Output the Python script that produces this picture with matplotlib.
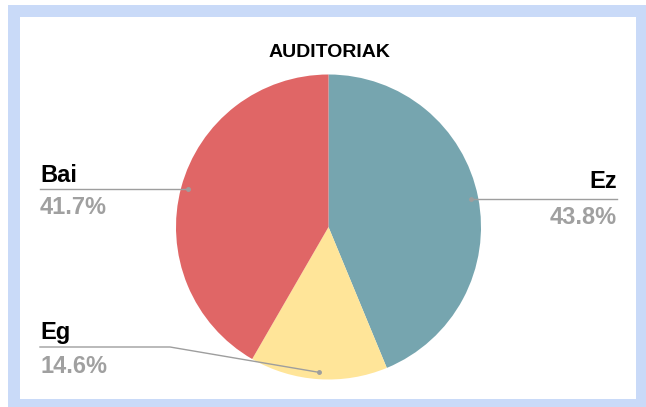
import numpy as np
import matplotlib
matplotlib.use("Agg")
import matplotlib.pyplot as plt
from matplotlib.patches import Rectangle

# Survey answers for the "AUDITORIAK" question
categories = ["Ez", "Eg", "Bai"]
shares = [43.8, 14.6, 41.7]
slice_colors = ["#76a5af", "#ffe599", "#e06666"]
title = "AUDITORIAK"

W, H = 646, 407
fig = plt.figure(figsize=(W / 100, H / 100), dpi=100)
fig.patch.set_facecolor("white")

# axes in pixel units (y measured upward)
ax = fig.add_axes([0, 0, 1, 1])
ax.patch.set_alpha(0)

# light blue frame around the chart area
ax.add_patch(Rectangle((8, 0), W - 8, H - 5, facecolor="#c9daf8",
                       edgecolor="none", zorder=-2))
ax.add_patch(Rectangle((20, 8), 636 - 20, 399 - 17, facecolor="white",
                       edgecolor="none", zorder=-1))

cx, cy, R = 328.5, H - 227, 152.5
wedges, _ = ax.pie(shares, colors=slice_colors, startangle=90,
                   counterclock=False, radius=R, center=(cx, cy),
                   wedgeprops=dict(edgecolor="none"))
ax.set_xlim(0, W)
ax.set_ylim(0, H)
ax.set_aspect("auto")
ax.axis("off")

ax.text(329, H - 57, title, ha="center", va="baseline",
        fontsize=14, fontweight="bold", family="Liberation Sans", color="black")

line_c = "#9e9e9e"
pct_c = "#a0a0a0"
fs = 17


def anchor(w, frac=0.955):
    a = np.deg2rad((w.theta1 + w.theta2) / 2)
    return cx + frac * R * np.cos(a), cy + frac * R * np.sin(a)


def y(p):
    return H - p


# Ez: right side
ez_i = categories.index("Ez")
x0, y0 = anchor(wedges[ez_i])
ax.plot([x0, 617], [y0, y0], color=line_c, lw=1)
ax.plot([x0], [y0], "o", color=line_c, ms=2.5)
ax.text(617, y0 + 11, categories[ez_i], ha="right", va="baseline",
        fontsize=fs, fontweight="bold", family="Liberation Sans", color="black")
ax.text(617, y0 - 25, f"{shares[ez_i]:.1f}%", ha="right", va="baseline",
        fontsize=fs, fontweight="bold", family="Liberation Sans", color=pct_c)

# Bai: left side, upper
bai_i = categories.index("Bai")
x0, y0 = anchor(wedges[bai_i])
ax.plot([40, x0], [y0, y0], color=line_c, lw=1)
ax.plot([x0], [y0], "o", color=line_c, ms=2.5)
ax.text(40, y0 + 7, categories[bai_i], ha="left", va="baseline",
        fontsize=fs, fontweight="bold", family="Liberation Sans", color="black")
ax.text(40, y0 - 25, f"{shares[bai_i]:.1f}%", ha="left", va="baseline",
        fontsize=fs, fontweight="bold", family="Liberation Sans", color=pct_c)

# Eg: left side, lower, with an elbow
eg_i = categories.index("Eg")
x0, y0 = anchor(wedges[eg_i])
ly = y(347)
ax.plot([40, 170, x0], [ly, ly, y0], color=line_c, lw=1)
ax.plot([x0], [y0], "o", color=line_c, ms=2.5)
ax.text(40, ly + 8, categories[eg_i], ha="left", va="baseline",
        fontsize=fs, fontweight="bold", family="Liberation Sans", color="black")
ax.text(40, ly - 26, f"{shares[eg_i]:.1f}%", ha="left", va="baseline",
        fontsize=fs, fontweight="bold", family="Liberation Sans", color=pct_c)

fig.savefig("out.png", dpi=100, facecolor="white")
